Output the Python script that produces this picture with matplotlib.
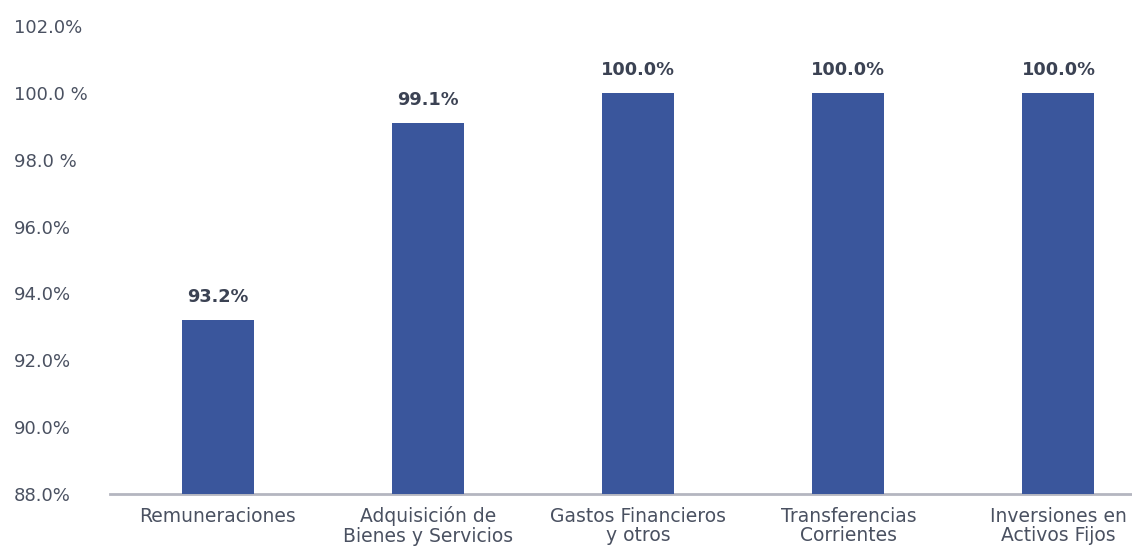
import numpy as np
import matplotlib.pyplot as plt

plt.rcParams['font.family'] = ['DejaVu Sans']

# data
categorias = ['Remuneraciones', 'Adquisición de\nBienes y Servicios',
              'Gastos Financieros\ny otros', 'Transferencias\nCorrientes',
              'Inversiones en\nActivos Fijos']
ejecucion = [93.2, 99.1, 100.0, 100.0, 100.0]
etiquetas = ['93.2%', '99.1%', '100.0%', '100.0%', '100.0%']
yticks = [88, 90, 92, 94, 96, 98, 100, 102]
ytick_labels = ['88.0%', '90.0%', '92.0%', '94.0%', '96.0%', '98.0 %', '100.0 %', '102.0%']

bar_color = '#3a569c'
text_color = '#4a5161'

fig = plt.figure(figsize=(11.32, 5.46), dpi=100)
ax = fig.add_axes([110/1132, 52/546, 1 - 110/1132, 494/546])

x = np.arange(len(categorias))
bars = ax.bar(x, ejecucion, width=0.343, color=bar_color, zorder=3)

for b, lab in zip(bars, etiquetas):
    ax.annotate(lab, (b.get_x() + b.get_width()/2, b.get_height()),
                xytext=(0, 10), textcoords='offset points',
                ha='center', va='bottom', fontsize=12.8, fontweight='bold',
                color='#3b4253')

ax.set_xlim(-0.514, 4.35)
ax.set_ylim(88, 88 + 494/33.42)

ax.set_xticks(x)
ax.set_xticklabels(categorias, fontsize=13.5, color=text_color, linespacing=1.05)
ax.tick_params(axis='x', length=0, pad=9)

ax.set_yticks(yticks)
ax.set_yticklabels(ytick_labels, fontsize=13, color=text_color)
ax.tick_params(axis='y', length=0, pad=69)
for t in ax.get_yticklabels():
    t.set_horizontalalignment('left')

for s in ['top', 'right', 'left']:
    ax.spines[s].set_visible(False)
ax.spines['bottom'].set_color('#b4b6c0')
ax.spines['bottom'].set_linewidth(2)

fig.savefig('out.png', dpi=100)
